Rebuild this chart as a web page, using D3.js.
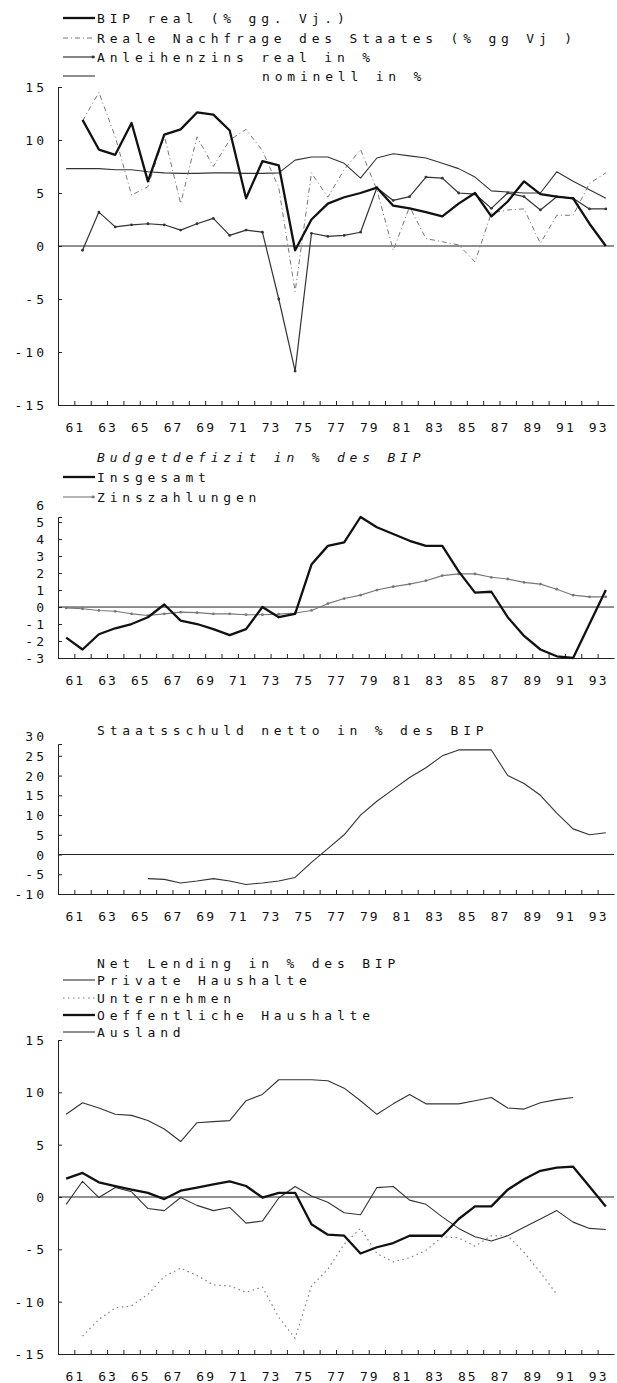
<!DOCTYPE html>
<html>
<head>
<meta charset="utf-8">
<script src="https://cdn.jsdelivr.net/npm/d3@7"></script>
<style>
body { margin: 0; background: #fff; }
text { font-family: "DejaVu Sans Mono", monospace; fill: #111; }
</style>
</head>
<body>
<svg id="chart" width="617" height="1383"></svg>
<script>
// tick labels of the year axis (all four panels)
var yearTicks = d3.range(61, 94);
var yearLabels = ["61", "63", "65", "67", "69", "71", "73", "75", "77", "79", "81", "83", "85", "87", "89", "91", "93"];

// panel 1: growth and interest rates (first year of each array in the *Start var)
var bipRealStart = 61;
var bipReal = [11.9, 9.1, 8.6, 11.6, 6.1, 10.5, 11.0, 12.6, 12.4, 10.9, 4.5, 8.0, 7.6, -0.4, 2.5, 4.0,
    4.6, 5.0, 5.5, 3.8, 3.55, 3.2, 2.8, 4.0, 5.0, 2.8, 4.2, 6.1, 4.9, 4.65, 4.5, 2.1, 0.0];
var nachfrageStart = 61;
var nachfrage = [11.8, 14.5, 10.3, 4.8, 5.6, 10.4, 4.0, 10.3, 7.5, 10.0, 11.0, 9.0, 5.5, -4.3, 6.9, 4.6,
    7.2, 9.1, 5.3, -0.4, 3.7, 0.7, 0.4, 0.1, -1.5, 3.1, 3.4, 3.5, 0.25, 2.9, 2.9, 5.9, 6.9];
var zinsRealStart = 61;
var zinsReal = [-0.4, 3.2, 1.8, 2.0, 2.1, 2.0, 1.5, 2.1, 2.6, 1.0, 1.5, 1.3, -5.0, -11.8, 1.2, 0.9,
    1.0, 1.3, 5.5, 4.3, 4.65, 6.5, 6.4, 5.0, 4.9, 3.55, 5.0, 4.65, 3.4, 4.65, 4.5, 3.5, 3.5];
var zinsNomStart = 60;
var zinsNom = [7.3, 7.3, 7.3, 7.2, 7.2, 7.0, 6.9, 6.85, 6.85, 6.9, 6.9, 6.85, 6.85, 6.9, 8.1, 8.4, 8.4,
    7.8, 6.4, 8.3, 8.7, 8.5, 8.3, 7.8, 7.3, 6.5, 5.2, 5.1, 5.0, 5.0, 7.0, 6.1, 5.3, 4.5];

// panel 2: budget deficit
var defizitStart = 60;
var defizit = [-1.8, -2.5, -1.6, -1.25, -1.0, -0.6, 0.15, -0.8, -1.0, -1.3, -1.65, -1.3, 0.0, -0.6, -0.4,
    2.5, 3.6, 3.8, 5.3, 4.7, 4.3, 3.9, 3.6, 3.6, 2.1, 0.85, 0.9, -0.6, -1.7, -2.5, -2.9, -3.0, -1.0, 1.0];
var zinsenStart = 60;
var zinsen = [-0.05, -0.1, -0.2, -0.25, -0.4, -0.5, -0.4, -0.3, -0.33, -0.4, -0.4, -0.45, -0.45, -0.42,
    -0.35, -0.2, 0.2, 0.5, 0.7, 1.0, 1.2, 1.35, 1.55, 1.85, 1.95, 1.95, 1.75, 1.65, 1.45, 1.35, 1.05,
    0.7, 0.6, 0.6];

// panel 3: net government debt
var schuldStart = 65;
var schuld = [-6.1, -6.3, -7.2, -6.7, -6.1, -6.7, -7.6, -7.2, -6.7, -5.8, -2.0, 1.5, 5.0, 10.0, 13.5,
    16.5, 19.5, 22.0, 25.0, 26.5, 26.5, 26.5, 20.0, 18.0, 15.0, 10.5, 6.5, 5.0, 5.5];

// panel 4: net lending by sector
var privatStart = 60;
var privat = [7.9, 9.0, 8.5, 7.9, 7.8, 7.3, 6.5, 5.3, 7.1, 7.2, 7.3, 9.2, 9.8, 11.2, 11.2, 11.2, 11.1,
    10.4, 9.2, 7.9, 8.9, 9.8, 8.9, 8.9, 8.9, 9.2, 9.5, 8.5, 8.4, 9.0, 9.3, 9.5];
var unternehmenStart = 61;
var unternehmen = [-13.3, -11.7, -10.6, -10.4, -9.3, -7.6, -6.8, -7.5, -8.4, -8.5, -9.1, -8.6, -11.5,
    -13.5, -8.5, -6.9, -4.5, -3.0, -5.4, -6.2, -5.8, -5.1, -3.8, -3.9, -4.7, -3.7, -3.7, -5.3, -7.2, -9.3];
var oeffentlichStart = 60;
var oeffentlich = [1.75, 2.3, 1.4, 1.05, 0.7, 0.4, -0.2, 0.6, 0.9, 1.2, 1.5, 1.05, -0.05, 0.4, 0.4,
    -2.6, -3.6, -3.7, -5.4, -4.8, -4.4, -3.7, -3.7, -3.7, -2.1, -0.9, -0.9, 0.7, 1.7, 2.5, 2.8, 2.9, 1.0, -0.9];
var auslandStart = 60;
var ausland = [-0.7, 1.5, -0.05, 0.9, 0.5, -1.1, -1.3, -0.05, -0.8, -1.3, -1.0, -2.5, -2.3, -0.1, 1.0,
    0.1, -0.5, -1.5, -1.7, 0.9, 1.0, -0.3, -0.7, -1.9, -3.0, -3.8, -4.2, -3.7, -2.9, -2.1, -1.3, -2.4,
    -3.0, -3.1];

var svg = d3.select("#chart");

// years axis, data sit in the middle of each year
var x = d3.scaleLinear().domain([60, 94]).range([58, 614]);

var styles = {
    thick: {w: 2.3, c: "#111", dash: null},
    thin: {w: 1.1, c: "#333", dash: null},
    dashdot: {w: 1, c: "#777", dash: "5,3,1,3"},
    marked: {w: 1.2, c: "#333", dash: null, dots: true},
    grey: {w: 1.1, c: "#777", dash: null, dots: true},
    dotted: {w: 1.1, c: "#777", dash: "1.5,3.5"}
};

function series(values, start) {
    return values.map(function (v, i) {
        return {year: start + i, value: v};
    });
}

function drawPanel(p) {
    var g = svg.append("g");
    var y = d3.scaleLinear().domain(p.domain).range(p.range);

    // zero line
    g.append("line")
        .attr("x1", x(60)).attr("x2", x(94))
        .attr("y1", y(0)).attr("y2", y(0))
        .attr("stroke", "#222").attr("stroke-width", 1);

    // x axis, ticks pointing up
    g.append("g")
        .attr("transform", "translate(0," + y(p.domain[0]) + ")")
        .call(d3.axisTop(x).tickValues(yearTicks).tickSize(4).tickSizeOuter(0).tickFormat(""))
        .call(function (a) { a.selectAll("path,line").attr("stroke", "#222"); });

    g.selectAll(".xl")
        .data(yearLabels)
        .enter().append("text")
        .attr("x", function (d) { return x(+d) + 1; })
        .attr("y", y(p.domain[0]) + 27)
        .attr("text-anchor", "middle")
        .attr("font-size", 13)
        .attr("letter-spacing", 2)
        .text(function (d) { return d; });

    // y axis, bracket at the ends
    g.append("g")
        .attr("transform", "translate(" + x(60) + ",0)")
        .call(d3.axisRight(y).tickValues(p.ticks.filter(function (t) {
            return t >= p.domain[0] && t <= p.domain[1];
        })).tickSize(4).tickSizeOuter(4).tickFormat(""))
        .call(function (a) { a.selectAll("path,line").attr("stroke", "#222"); });

    g.selectAll(".yl")
        .data(p.ticks)
        .enter().append("text")
        .attr("x", 47)
        .attr("y", function (d) { return y(d) + 5; })
        .attr("text-anchor", "end")
        .attr("font-size", 13)
        .attr("letter-spacing", 3)
        .text(function (d) { return d; });

    var line = d3.line()
        .x(function (d) { return x(d.year + 0.5); })
        .y(function (d) { return y(d.value); });

    p.lines.forEach(function (l) {
        var s = styles[l.style];
        var data = series(l.values, l.start);
        g.append("path")
            .attr("d", line(data))
            .attr("fill", "none")
            .attr("stroke", s.c)
            .attr("stroke-width", s.w)
            .attr("stroke-dasharray", s.dash)
            .attr("stroke-linejoin", "round");
        if (s.dots) {
            g.selectAll(null)
                .data(data)
                .enter().append("circle")
                .attr("cx", function (d) { return x(d.year + 0.5); })
                .attr("cy", function (d) { return y(d.value); })
                .attr("r", 1.4)
                .attr("fill", s.c);
        }
    });

    if (p.title) {
        g.append("text")
            .attr("x", 97)
            .attr("y", p.title.y + 5)
            .attr("font-size", 13)
            .attr("letter-spacing", 4.8)
            .attr("font-style", p.title.italic ? "italic" : null)
            .text(p.title.text);
    }

    // legend
    p.legend.forEach(function (l) {
        var s = styles[l.style];
        g.append("line")
            .attr("x1", 63).attr("x2", 95)
            .attr("y1", l.y).attr("y2", l.y)
            .attr("stroke", s.c)
            .attr("stroke-width", s.w)
            .attr("stroke-dasharray", s.dash);
        if (s.dots) {
            g.append("circle").attr("cx", 93).attr("cy", l.y).attr("r", 1.4).attr("fill", s.c);
        }
        g.append("text")
            .attr("x", l.tx || 97)
            .attr("y", l.y + 5)
            .attr("font-size", 13)
            .attr("letter-spacing", 4.8)
            .text(l.label);
    });
}

drawPanel({
    domain: [-15, 15], range: [405, 87],
    ticks: [-15, -10, -5, 0, 5, 10, 15],
    lines: [
        {values: zinsNom, start: zinsNomStart, style: "thin"},
        {values: nachfrage, start: nachfrageStart, style: "dashdot"},
        {values: zinsReal, start: zinsRealStart, style: "marked"},
        {values: bipReal, start: bipRealStart, style: "thick"}
    ],
    legend: [
        {y: 18, style: "thick", label: "BIP real (% gg. Vj.)"},
        {y: 38, style: "dashdot", label: "Reale Nachfrage des Staates (% gg  Vj )"},
        {y: 57, style: "marked", label: "Anleihenzins real in %"},
        {y: 76, style: "thin", label: "nominell in %", tx: 262}
    ]
});

drawPanel({
    domain: [-3, 5.3], range: [658, 517],
    ticks: [-3, -2, -1, 0, 1, 2, 3, 4, 5, 6],
    title: {text: "Budgetdefizit in % des BIP", y: 457, italic: true},
    lines: [
        {values: zinsen, start: zinsenStart, style: "grey"},
        {values: defizit, start: defizitStart, style: "thick"}
    ],
    legend: [
        {y: 477, style: "thick", label: "Insgesamt"},
        {y: 497, style: "grey", label: "Zinszahlungen"}
    ]
});

drawPanel({
    domain: [-10, 28], range: [894, 744],
    ticks: [-10, -5, 0, 5, 10, 15, 20, 25, 30],
    title: {text: "Staatsschuld netto in % des BIP", y: 730},
    lines: [
        {values: schuld, start: schuldStart, style: "thin"}
    ],
    legend: []
});

drawPanel({
    domain: [-15, 15], range: [1354, 1040],
    ticks: [-15, -10, -5, 0, 5, 10, 15],
    title: {text: "Net Lending in % des BIP", y: 963},
    lines: [
        {values: privat, start: privatStart, style: "thin"},
        {values: unternehmen, start: unternehmenStart, style: "dotted"},
        {values: ausland, start: auslandStart, style: "thin"},
        {values: oeffentlich, start: oeffentlichStart, style: "thick"}
    ],
    legend: [
        {y: 980, style: "thin", label: "Private Haushalte"},
        {y: 998, style: "dotted", label: "Unternehmen"},
        {y: 1015, style: "thick", label: "Oeffentliche Haushalte"},
        {y: 1032, style: "thin", label: "Ausland"}
    ]
});
</script>
</body>
</html>
